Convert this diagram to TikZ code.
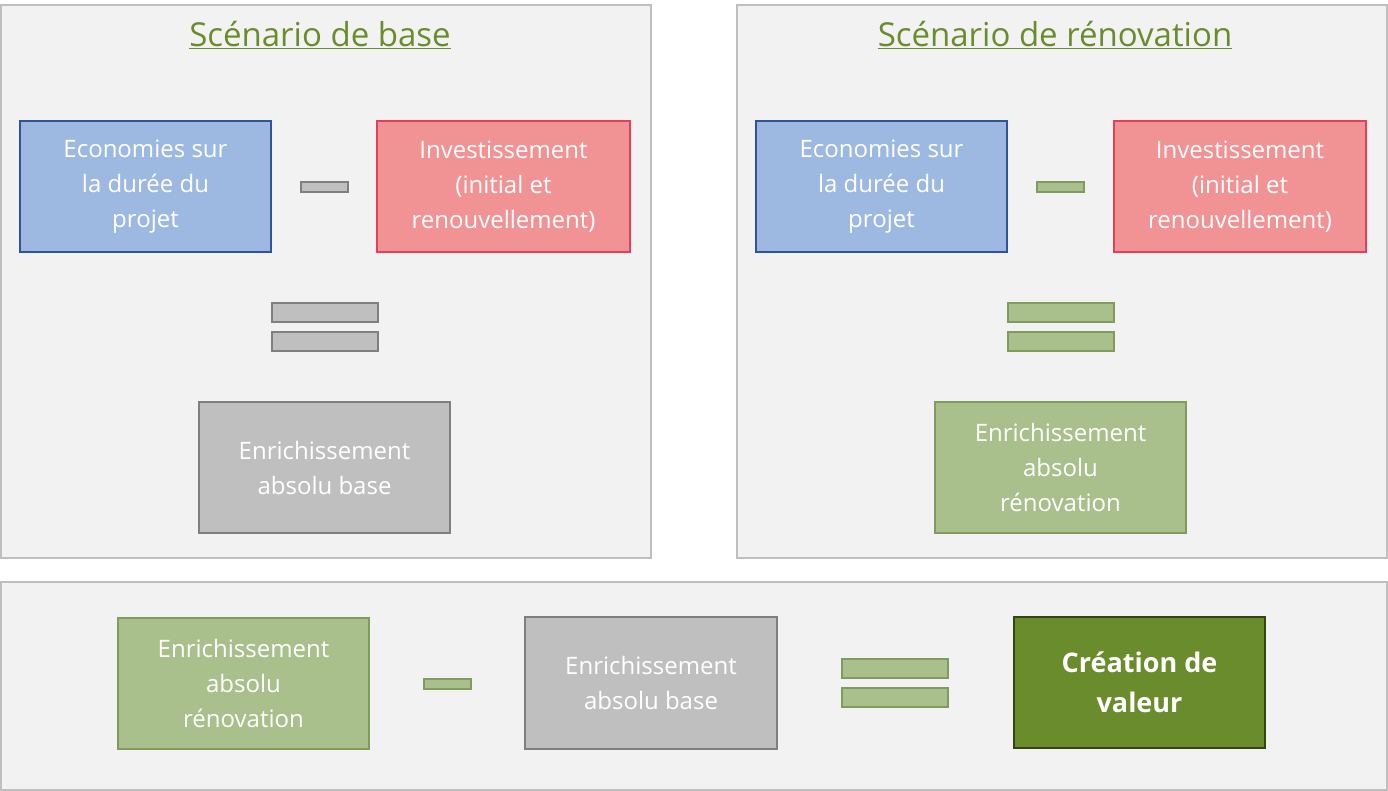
\documentclass[tikz,border=0pt]{standalone}
\usepackage{fontspec}
\setmainfont{Open Sans}
\begin{document}
\begin{tikzpicture}[x=1pt,y=-1pt,
 panel/.style={draw=black!25,fill=black!5,line width=1.5pt},
 box/.style={line width=1.5pt,text=white,align=center,font=\fontsize{24}{35}\selectfont},
 blue/.style={box,fill=blue!40!black!0,fill={rgb,255:red,157;green,185;blue,226},draw={rgb,255:red,47;green,85;blue,151}},
 red/.style={box,fill={rgb,255:red,241;green,147;blue,148},draw={rgb,255:red,229;green,64;blue,90}},
 grey/.style={box,fill={rgb,255:red,191;green,191;blue,191},draw={rgb,255:red,127;green,127;blue,127}},
 green/.style={box,fill={rgb,255:red,169;green,192;blue,140},draw={rgb,255:red,127;green,156;blue,94}},
 dgreen/.style={box,fill={rgb,255:red,106;green,140;blue,44},draw={rgb,255:red,50;green,70;blue,20},font=\fontsize{27}{40}\selectfont\bfseries},
 gbar/.style={fill={rgb,255:red,191;green,191;blue,191},draw={rgb,255:red,127;green,127;blue,127},line width=1.5pt},
 grbar/.style={fill={rgb,255:red,169;green,192;blue,140},draw={rgb,255:red,127;green,156;blue,94},line width=1.5pt},
 title/.style={text={rgb,255:red,106;green,140;blue,44},font=\fontsize{33}{40}\selectfont}]
\useasboundingbox (0,0) rectangle (1388,791);
\draw[panel] (1,5) rectangle (651,558);
\draw[panel] (737,5) rectangle (1387,558);
\draw[panel] (1,582) rectangle (1387,790);
\node[title] (t1) at (320,35) {\underline{Scénario de base}};
\node[title] (t2) at (1055,35) {\underline{Scénario de rénovation}};
% left
\node[blue,minimum width=251,minimum height=131] (b1) at (145.5,186.5) {Economies sur\\la durée du\\projet};
\node[red,minimum width=253,minimum height=131] (r1) at (503.5,186.5) {Investissement\\(initial et\\renouvellement)};
\draw[gbar] (301,182) rectangle (348,192);
\draw[gbar] (272,303) rectangle (378,322);
\draw[gbar] (272,332) rectangle (378,351);
\node[grey,minimum width=251,minimum height=131] (g1) at (324.5,467.5) {Enrichissement\\absolu base};
% right
\node[blue,minimum width=251,minimum height=131] (b2) at (881.5,186.5) {Economies sur\\la durée du\\projet};
\node[red,minimum width=252,minimum height=131] (r2) at (1240,186.5) {Investissement\\(initial et\\renouvellement)};
\draw[grbar] (1037,182) rectangle (1084,192);
\draw[grbar] (1008,303) rectangle (1114,322);
\draw[grbar] (1008,332) rectangle (1114,351);
\node[green,minimum width=251,minimum height=131] (g2) at (1060.5,467.5) {Enrichissement\\absolu\\rénovation};
% bottom
\node[green,minimum width=251,minimum height=131] (g3) at (243.5,683.5) {Enrichissement\\absolu\\rénovation};
\draw[grbar] (424,679) rectangle (471,689);
\node[grey,minimum width=252,minimum height=132] (g4) at (651,683) {Enrichissement\\absolu base};
\draw[grbar] (842,659) rectangle (948,678);
\draw[grbar] (842,688) rectangle (948,707);
\node[dgreen,minimum width=251,minimum height=131] (v) at (1139.5,682.5) {Création de\\valeur};
\end{tikzpicture}
\end{document}
